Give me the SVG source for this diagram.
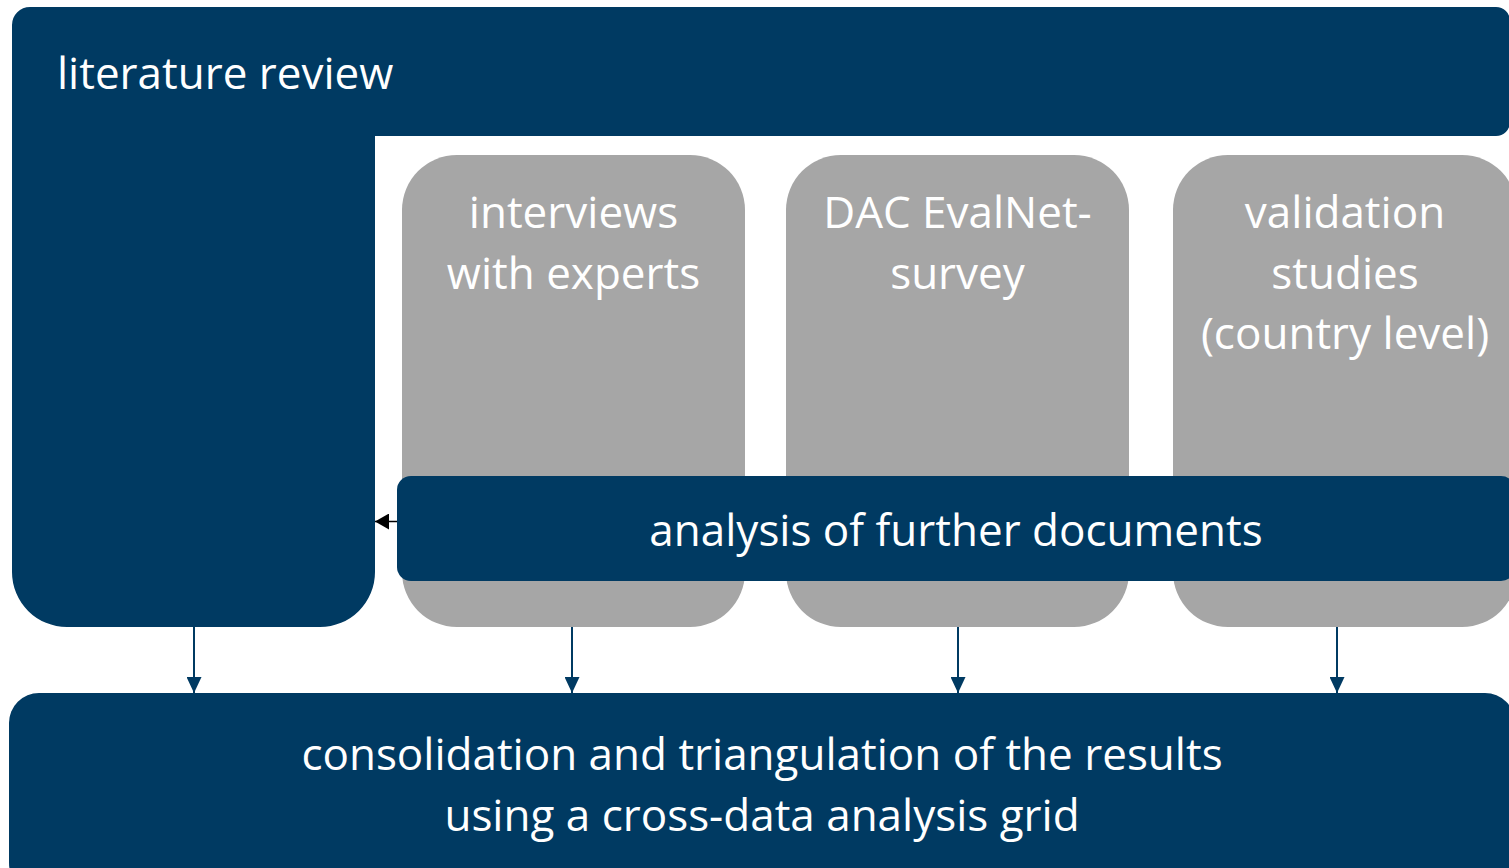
<svg xmlns="http://www.w3.org/2000/svg" width="1509" height="868" viewBox="0 0 1509 868">
<defs>
<style>
.blue{fill:#003A62;}
.gray{fill:#A6A6A6;}
.t{font-family:"Open Sans","Liberation Sans",sans-serif;font-size:44px;fill:#FFFFFF;}
.c{text-anchor:middle;}
.conn{stroke:#003A62;stroke-width:2;fill:none;}
</style>
<marker id="ah" viewBox="0 0 16 15" refX="16" refY="7.5" markerWidth="16" markerHeight="15" markerUnits="userSpaceOnUse" orient="auto">
<path d="M0,0 L16,7.5 L0,15 Z" fill="#003A62"/>
</marker>
<marker id="ahk" viewBox="0 0 14 16" refX="14" refY="8" markerWidth="14" markerHeight="16" markerUnits="userSpaceOnUse" orient="auto">
<path d="M0,0 L14,8 L0,16 Z" fill="#000000"/>
</marker>
</defs>
<rect width="1509" height="868" fill="#FFFFFF"/>
<g id="literature-review">
<path class="blue" d="M30,7 H1496 A14,14 0 0 1 1510,21 V122 A14,14 0 0 1 1496,136 H375 V572 A55,55 0 0 1 320,627 H67 A55,55 0 0 1 12,572 V25 A18,18 0 0 1 30,7 Z"/>
<text class="t" x="57" y="89">literature review</text>
</g>
<g id="interviews">
<rect class="gray" x="402" y="155" width="343" height="472" rx="55"/>
<text class="t c" x="573.5" y="228">interviews</text>
<text class="t c" x="573.5" y="288.5">with experts</text>
</g>
<g id="dac-survey">
<rect class="gray" x="786" y="155" width="343" height="472" rx="55"/>
<text class="t c" x="957.5" y="228">DAC EvalNet-</text>
<text class="t c" x="957.5" y="288.5">survey</text>
</g>
<g id="validation">
<rect class="gray" x="1173" y="155" width="344" height="472" rx="55"/>
<text class="t c" x="1345" y="228">validation</text>
<text class="t c" x="1345" y="288.5">studies</text>
<text class="t c" x="1345" y="349">(country level)</text>
</g>
<g id="analysis">
<rect class="blue" x="397" y="476" width="1118" height="105" rx="14"/>
<text class="t c" x="956" y="546">analysis of further documents</text>
</g>
<g id="consolidation">
<rect class="blue" x="9" y="693" width="1506" height="200" rx="30"/>
<text class="t c" x="762" y="770">consolidation and triangulation of the results</text>
<text class="t c" x="762" y="831">using a cross-data analysis grid</text>
</g>
<g id="connectors">
<line class="conn" x1="194" y1="627" x2="194" y2="693" marker-end="url(#ah)"/>
<line class="conn" x1="572" y1="627" x2="572" y2="693" marker-end="url(#ah)"/>
<line class="conn" x1="958" y1="627" x2="958" y2="693" marker-end="url(#ah)"/>
<line class="conn" x1="1337" y1="627" x2="1337" y2="693" marker-end="url(#ah)"/>
<line x1="397" y1="521.5" x2="375" y2="521.5" stroke="#000000" stroke-width="1.5" marker-end="url(#ahk)"/>
</g>
</svg>
